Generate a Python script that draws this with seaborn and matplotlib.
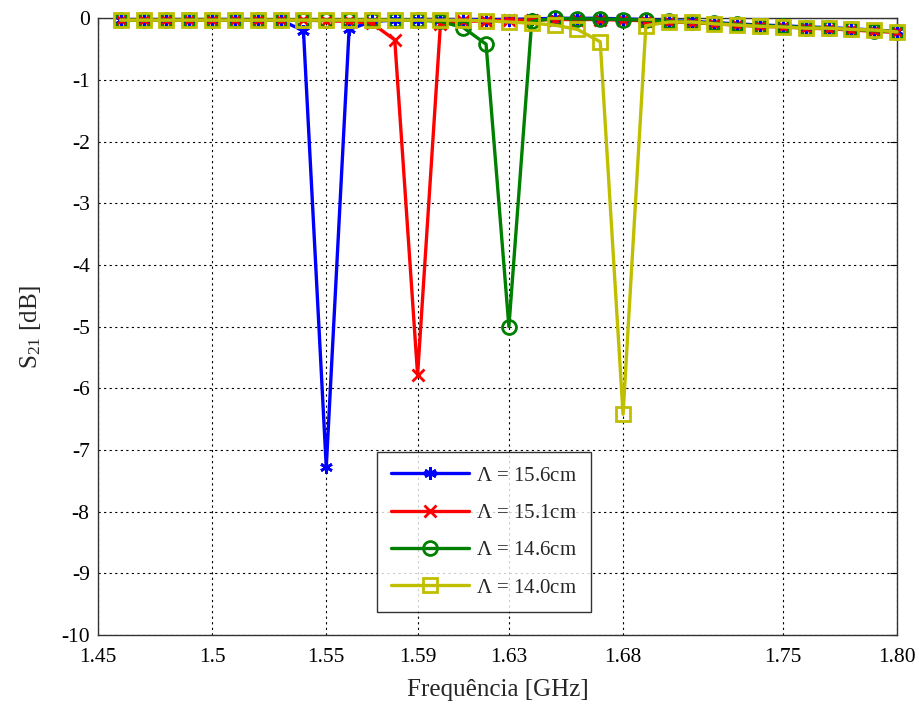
import matplotlib
matplotlib.use("Agg")
import matplotlib.pyplot as plt
import seaborn as sns
import pandas as pd

freq = [1.46, 1.47, 1.48, 1.49, 1.50, 1.51, 1.52, 1.53, 1.54, 1.55,
        1.56, 1.57, 1.58, 1.59, 1.60, 1.61, 1.62, 1.63, 1.64, 1.65,
        1.66, 1.67, 1.68, 1.69, 1.70, 1.71, 1.72, 1.73, 1.74, 1.75,
        1.76, 1.77, 1.78, 1.79, 1.80]

s_156 = [-0.02, -0.02, -0.02, -0.02, -0.02, -0.02, -0.02, -0.03, -0.20, -7.28,
         -0.18, -0.05, -0.03, -0.02, -0.02, -0.02, -0.02, -0.02, -0.01, 0.00,
         0.00, 0.00, -0.01, -0.02, -0.04, -0.05, -0.07, -0.09, -0.11, -0.12,
         -0.14, -0.15, -0.17, -0.19, -0.21]
s_151 = [-0.03, -0.03, -0.03, -0.03, -0.03, -0.03, -0.03, -0.03, -0.03, -0.04,
         -0.05, -0.08, -0.35, -5.78, -0.10, -0.05, -0.04, -0.03, -0.03, -0.02,
         -0.02, -0.02, -0.03, -0.04, -0.06, -0.07, -0.09, -0.11, -0.13, -0.14,
         -0.16, -0.17, -0.19, -0.21, -0.23]
s_146 = [-0.03, -0.03, -0.03, -0.03, -0.03, -0.03, -0.03, -0.03, -0.03, -0.03,
         -0.03, -0.03, -0.03, -0.03, -0.05, -0.15, -0.42, -5.00, -0.05, 0.00,
         -0.01, -0.01, -0.02, -0.03, -0.05, -0.06, -0.08, -0.10, -0.12, -0.13,
         -0.15, -0.16, -0.18, -0.20, -0.22]
s_140 = [-0.03, -0.03, -0.03, -0.03, -0.03, -0.03, -0.03, -0.03, -0.03, -0.03,
         -0.03, -0.03, -0.03, -0.03, -0.03, -0.03, -0.04, -0.06, -0.08, -0.11,
         -0.18, -0.38, -6.42, -0.12, -0.06, -0.06, -0.09, -0.11, -0.13, -0.14,
         -0.16, -0.16, -0.18, -0.19, -0.22]

labels = [r"$\Lambda$ = 15.6cm", r"$\Lambda$ = 15.1cm", r"$\Lambda$ = 14.6cm", r"$\Lambda$ = 14.0cm"]
series = [s_156, s_151, s_146, s_140]
colors = ["#0000ff", "#ff0000", "#008000", "#bfbf00"]
markers = [(6, 2, 0), "x", "o", "s"]

xticks = [1.45, 1.5, 1.55, 1.59, 1.63, 1.68, 1.75, 1.80]
xticklabels = ["1.45", "1.5", "1.55", "1.59", "1.63", "1.68", "1.75", "1.80"]
yticks = [-10, -9, -8, -7, -6, -5, -4, -3, -2, -1, 0]

sns.set_style("white")
plt.rcParams["font.family"] = ["Liberation Serif", "DejaVu Serif"]
plt.rcParams["mathtext.fontset"] = "custom"
plt.rcParams["mathtext.rm"] = "Liberation Serif"
plt.rcParams["mathtext.it"] = "Liberation Serif"

fig = plt.figure(figsize=(9.2, 7.04), dpi=100)
ax = fig.add_axes([0.1065, 0.098, 0.8685, 0.876])

for lab, s, c, m in zip(labels, series, colors, markers):
    df = pd.DataFrame({"f": freq, "v": s})
    mfc = c if m == (6, 2, 0) else "none"
    sns.lineplot(data=df, x="f", y="v", ax=ax, color=c, linewidth=2.4,
                 marker=m, markersize=10 if m in ("o", "s") else 9,
                 markerfacecolor=mfc, markeredgecolor=c, markeredgewidth=2.0,
                 label=lab, clip_on=False, zorder=3)

ax.set_xlim(1.45, 1.80)
ax.set_ylim(-10, 0)
ax.set_xticks(xticks)
ax.set_xticklabels(xticklabels)
ax.set_yticks(yticks)
ax.set_yticklabels([str(t) for t in yticks])
ax.tick_params(direction="in", length=5, labelsize=15.5, colors="black",
               top=True, right=True)
ax.tick_params(axis="x", pad=9)
ax.tick_params(axis="y", pad=6)
ax.grid(True, color="black", linestyle=(0, (2, 3)), linewidth=0.8)
for sp in ax.spines.values():
    sp.set_visible(True)
    sp.set_color("#333333")
    sp.set_linewidth(1.0)

ax.set_xlabel("Frequência [GHz]", fontsize=18, labelpad=9)
ax.set_ylabel(r"S$_{21}$ [dB]", fontsize=18, labelpad=13)

leg = ax.legend(loc="lower left", bbox_to_anchor=(0.349, 0.037), fontsize=15,
                frameon=True, fancybox=False, edgecolor="black",
                handlelength=3.7, handletextpad=0.35, borderpad=0.7,
                labelspacing=0.85, borderaxespad=0.0)
leg.get_frame().set_linewidth(1.0)

fig.savefig("out.png", dpi=100)
